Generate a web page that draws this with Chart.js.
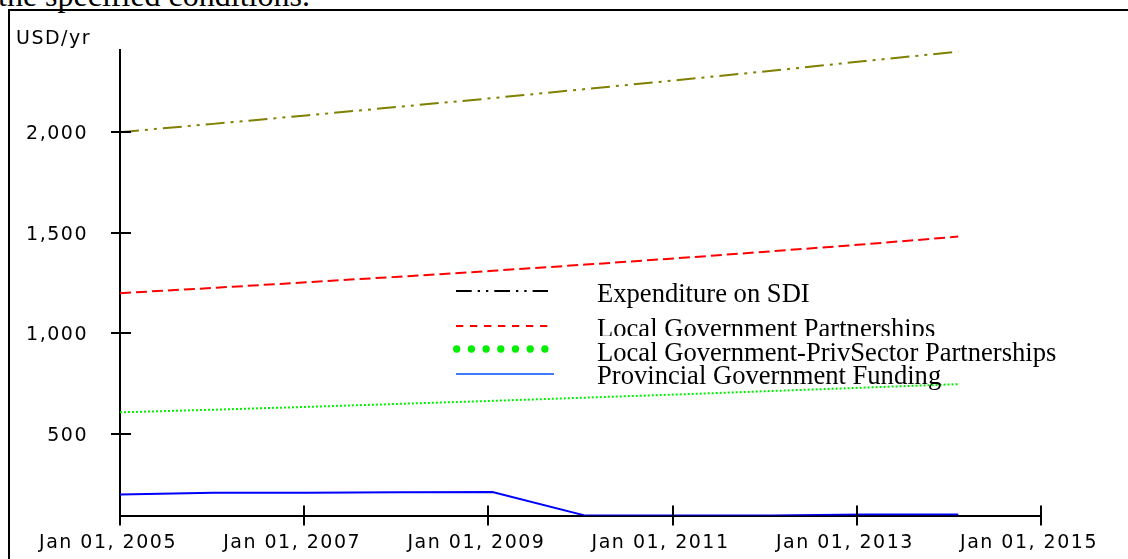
<!DOCTYPE html>
<html><head><meta charset="utf-8">
<script src="https://cdn.jsdelivr.net/npm/chart.js@4"></script>
<style>
html,body{margin:0;padding:0;background:#fff;width:1128px;height:559px;overflow:hidden;position:relative}
#cap{position:absolute;left:-2px;top:-21px;font:32px/32px "Liberation Serif",serif;color:#000;white-space:nowrap}
#frame{position:absolute;left:8px;top:9px;width:1300px;height:700px;border-left:2px solid #000;border-top:2px solid #000}
canvas{position:absolute;left:0;top:0}
</style></head><body>
<div id="cap">the specified conditions.</div>
<div id="frame"></div>
<canvas id="c" width="1128" height="559"></canvas>
<script>
// ---- data ----
const dates = ['2005-01-01','2006-01-05','2007-01-09','2008-01-13','2009-01-17','2010-01-21','2011-01-25','2012-01-29','2013-02-02','2014-02-07'];
const expenditureSDI = [2000, 2041, 2083, 2126, 2169, 2214, 2259, 2305, 2353, 2400];
const localGovPartnerships = [1200, 1226, 1254, 1282, 1311, 1342, 1374, 1408, 1443, 1481];
const localGovPrivSector = [608, 621, 635, 650, 665, 681, 697, 714, 731, 748];
const provincialFunding = [200, 208, 208, 211, 212, 95, 95, 95, 100, 100];
const seriesNames = ['Expenditure on SDI','Local Government Partnerships','Local Government-PrivSector Partnerships','Provincial Government Funding'];
const xTickDates = ['2005-01-01','2007-01-01','2009-01-01','2011-01-01','2013-01-01','2015-01-01'];
const yTickValues = [500, 1000, 1500, 2000];
const yAxisUnit = 'USD/yr';

// ---- helpers ----
const MONTHS = ['Jan','Feb','Mar','Apr','May','Jun','Jul','Aug','Sep','Oct','Nov','Dec'];
const toMs = s => Date.parse(s + 'T00:00:00Z');
const fmtDate = ms => { const d = new Date(ms); return MONTHS[d.getUTCMonth()] + ' ' + String(d.getUTCDate()).padStart(2,'0') + ', ' + d.getUTCFullYear(); };
const pts = vals => dates.map((d,i) => ({x: toMs(d), y: vals[i]}));
const TICK_FONT = {family:'"DejaVu Sans", Verdana, sans-serif', size:19};
const SPACING = '1.5px';

const spacingPlugin = {
  id:'spacing',
  beforeUpdate(chart){ chart.ctx.letterSpacing = SPACING; },
  beforeDraw(chart){ chart.ctx.letterSpacing = SPACING; }
};

const tickPlugin = {
  id:'crossTicks',
  afterDatasetsDraw(chart){
    const {ctx, chartArea:a, scales:{x, y}} = chart;
    ctx.save();
    ctx.strokeStyle = '#000'; ctx.lineWidth = 2;
    ctx.beginPath();
    y.ticks.forEach(t => { const py = Math.round(y.getPixelForValue(t.value)); ctx.moveTo(a.left - 9, py); ctx.lineTo(a.left + 11, py); });
    x.ticks.forEach(t => { const px = Math.round(x.getPixelForValue(t.value)); ctx.moveTo(px, a.bottom - 10); ctx.lineTo(px, a.bottom + 10); });
    ctx.stroke();
    ctx.fillStyle = '#000';
    ctx.font = '19px "DejaVu Sans", Verdana, sans-serif';
    ctx.textAlign = 'left'; ctx.textBaseline = 'alphabetic';
    ctx.fillText(yAxisUnit, 16, 44);
    ctx.restore();
  }
};

const legendPlugin = {
  id:'boxLegend',
  afterDraw(chart){
    const ctx = chart.ctx;
    const rows = [
      {sy:291, ty:302},
      {sy:326, ty:336.5, clipBottom:336},
      {sy:349, ty:361},
      {sy:374, ty:384}
    ];
    ctx.save();
    ctx.letterSpacing = '0px';
    chart.data.datasets.forEach((ds, i) => {
      const r = rows[i];
      ctx.save();
      ctx.strokeStyle = ds.legendColor;
      ctx.lineWidth = ds.legendWidth;
      ctx.lineCap = ds.legendCap;
      ctx.setLineDash(ds.legendDash);
      ctx.beginPath();
      ctx.moveTo(ds.legendX0, r.sy); ctx.lineTo(ds.legendX1, r.sy);
      ctx.stroke();
      ctx.restore();
      ctx.save();
      if (r.clipBottom) { ctx.beginPath(); ctx.rect(590, r.clipBottom - 40, 500, 40); ctx.clip(); }
      ctx.fillStyle = '#000';
      ctx.font = '26.6px "Liberation Serif", "Times New Roman", serif';
      ctx.textAlign = 'left'; ctx.textBaseline = 'alphabetic';
      ctx.fillText(ds.label, 597, r.ty);
      ctx.restore();
    });
    ctx.restore();
  }
};

new Chart(document.getElementById('c'), {
  type:'line',
  data:{
    datasets:[
      {label:seriesNames[0], data:pts(expenditureSDI), borderColor:'#808000', borderWidth:2, borderDash:[19,6,3,6,3,6],
       legendColor:'#000', legendWidth:2, legendCap:'butt', legendDash:[15.7,6,2.3,6,2.3,6], legendX0:456, legendX1:548},
      {label:seriesNames[1], data:pts(localGovPartnerships), borderColor:'#ff0000', borderWidth:2, borderDash:[11,5],
       legendColor:'#ff0000', legendWidth:2, legendCap:'butt', legendDash:[7.3,6.7], legendX0:456, legendX1:548},
      {label:seriesNames[2], data:pts(localGovPrivSector), borderColor:'#00ee00', borderWidth:2, borderDash:[2,2],
       legendColor:'#00ee00', legendWidth:7.3, legendCap:'round', legendDash:[0,14.7], legendX0:456.7, legendX1:550},
      {label:seriesNames[3], data:pts(provincialFunding), borderColor:'#0000ff', borderWidth:2, borderDash:[],
       legendColor:'#3f7bff', legendWidth:2, legendCap:'butt', legendDash:[], legendX0:456, legendX1:554}
    ].map(d => Object.assign({pointRadius:0, pointHoverRadius:0, fill:false, tension:0}, d))
  },
  options:{
    responsive:false, animation:false, devicePixelRatio:1,
    layout:{padding:{left:0, right:87, top:50, bottom:0}},
    plugins:{legend:{display:false}, tooltip:{enabled:false}, title:{display:false}},
    scales:{
      x:{type:'linear', min:toMs(xTickDates[0]), max:toMs(xTickDates[xTickDates.length-1]),
         afterBuildTicks:s => { s.ticks = xTickDates.map(t => ({value:toMs(t)})); },
         afterFit:s => { s.height = 43; },
         grid:{display:false, drawTicks:false},
         border:{display:true, color:'#000', width:2},
         ticks:{callback:v => fmtDate(v), font:TICK_FONT, color:'#000', padding:16, labelOffset:-12, maxRotation:0, autoSkip:false}},
      y:{type:'linear', min:95, max:2408,
         afterBuildTicks:s => { s.ticks = yTickValues.map(v => ({value:v})); },
         afterFit:s => { s.width = 120; },
         grid:{display:false, drawTicks:false},
         border:{display:true, color:'#000', width:2},
         ticks:{callback:v => v.toLocaleString('en-US'), font:TICK_FONT, color:'#000', padding:32, labelOffset:2}}
    }
  },
  plugins:[spacingPlugin, tickPlugin, legendPlugin]
});
</script>
</body></html>
